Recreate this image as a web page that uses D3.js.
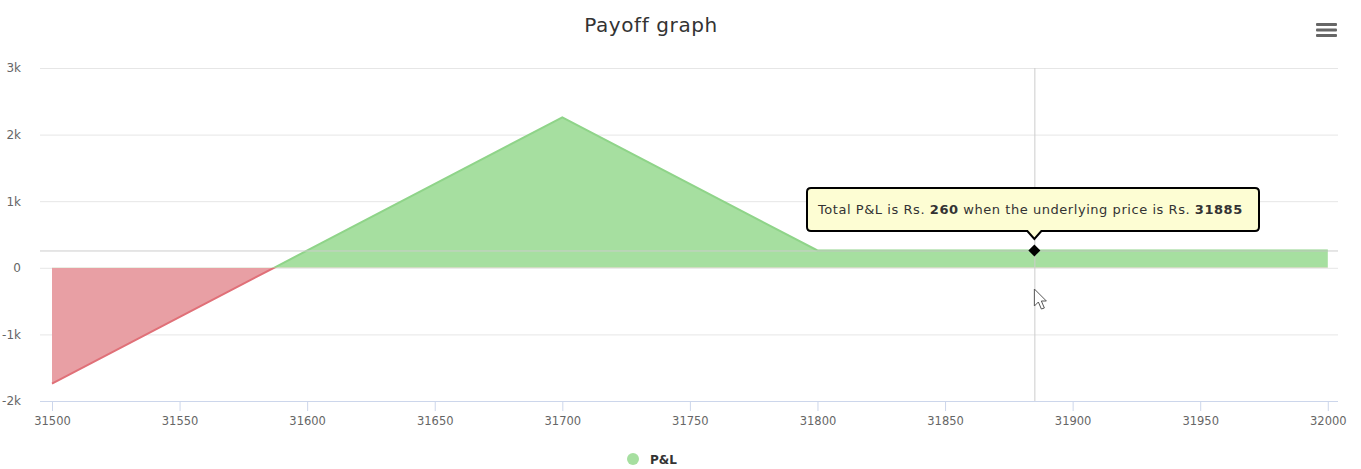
<!DOCTYPE html>
<html><head><meta charset="utf-8">
<script src="https://cdn.jsdelivr.net/npm/d3@7"></script>
<style>
html,body{margin:0;padding:0;background:#fff;}
svg{display:block;font-family:"DejaVu Sans",Verdana,sans-serif;}
</style></head>
<body>
<svg id="c" width="1361" height="469"></svg>
<script>
// ---- data ----
const prices = [31500, 31587, 31700, 31800, 32000];
const pnl = [-1740, 0, 2260, 260, 260];
const yTicks = [-2000, -1000, 0, 1000, 2000, 3000];
const yTickLabels = ["-2k", "-1k", "0", "1k", "2k", "3k"];
const xTicks = [31500, 31550, 31600, 31650, 31700, 31750, 31800, 31850, 31900, 31950, 32000];
const hoverPrice = [31885];
const hoverPnl = [260];
const title = "Payoff graph";
const seriesName = "P&L";

const data = prices.map((p, i) => ({x: p, y: pnl[i]}));
const svg = d3.select("#c");
const L = 40, R = 1338, T = 68, B = 401;
const x = d3.scaleLinear().domain([31495.3, 32004]).range([L, R]);
const y = d3.scaleLinear().domain([-2000, 3000]).range([B, T]);

// title
svg.append("text").attr("x", 651).attr("y", 32).attr("text-anchor", "middle")
  .attr("font-size", 20).attr("letter-spacing", 0.6).attr("fill", "#333").text(title);

// menu icon
[0, 1, 2].forEach(i => svg.append("rect").attr("x", 1316).attr("y", 23 + i * 5.5)
  .attr("width", 21).attr("height", 3).attr("rx", 1).attr("fill", "#666"));

// grid
const yAxis = d3.axisLeft(y).tickValues(yTicks).tickSize(-(R - L))
  .tickFormat((d, i) => yTickLabels[i]).tickPadding(19);
const gy = svg.append("g").attr("transform", `translate(${L},0)`).call(yAxis);
gy.select(".domain").remove();
gy.selectAll(".tick line").attr("stroke", "#e6e6e6");
gy.selectAll(".tick text").attr("fill", "#666").attr("font-size", 12)
  .attr("font-family", "DejaVu Sans, sans-serif");

// x axis
const xAxis = d3.axisBottom(x).tickValues(xTicks).tickSize(10).tickPadding(6)
  .tickFormat(d3.format("d"));
const gx = svg.append("g").attr("transform", `translate(0,${B})`).call(xAxis);
gx.select(".domain").attr("stroke", "#ccd6eb").attr("d", `M${L},0.5H${R}`);
gx.selectAll(".tick line").attr("stroke", "#ccd6eb");
gx.selectAll(".tick text").attr("fill", "#666").attr("font-size", 11.5)
  .attr("font-family", "DejaVu Sans, sans-serif");

// clip paths for zones
const defs = svg.append("defs");
defs.append("clipPath").attr("id", "pos").append("rect")
  .attr("x", 0).attr("y", 0).attr("width", 1361).attr("height", y(0));
defs.append("clipPath").attr("id", "neg").append("rect")
  .attr("x", 0).attr("y", y(0)).attr("width", 1361).attr("height", 469 - y(0));

const area = d3.area().x(d => x(d.x)).y0(y(0)).y1(d => y(d.y));
const line = d3.line().x(d => x(d.x)).y(d => y(d.y));

const zones = [["pos", "#a6dfa0", "#8fd489"], ["neg", "#e89fa4", "#e07078"]];
zones.forEach(([id, fill, stroke]) => {
  const g = svg.append("g").attr("clip-path", `url(#${id})`);
  g.append("path").datum(data).attr("d", area).attr("fill", fill);
  g.append("path").datum(data).attr("d", line).attr("fill", "none")
    .attr("stroke", stroke).attr("stroke-width", 2);
});

// crosshairs
const hx = x(hoverPrice[0]), hy = y(hoverPnl[0]);
svg.append("line").attr("x1", hx + 0.5).attr("x2", hx + 0.5).attr("y1", T).attr("y2", B)
  .attr("stroke", "#cccccc").attr("stroke-width", 1);
svg.append("line").attr("x1", L).attr("x2", R).attr("y1", hy + 0.5).attr("y2", hy + 0.5)
  .attr("stroke", "#cccccc").attr("stroke-width", 1);

// marker
const s = 6;
svg.append("path").attr("d", `M${hx},${hy - s}L${hx + s},${hy}L${hx},${hy + s}L${hx - s},${hy}Z`)
  .attr("fill", "#000");

// tooltip
const tw = 452, th = 43, tx = 807, ty = 188;
const bx = ty + th;
svg.append("path").attr("d",
  `M${tx + 4},${ty}H${tx + tw - 4}Q${tx + tw},${ty} ${tx + tw},${ty + 4}V${bx - 4}Q${tx + tw},${bx} ${tx + tw - 4},${bx}` +
  `H${hx + 7}L${hx},${bx + 8}L${hx - 7},${bx}H${tx + 4}Q${tx},${bx} ${tx},${bx - 4}V${ty + 4}Q${tx},${ty} ${tx + 4},${ty}Z`)
  .attr("fill", "#fdfdd3").attr("stroke", "#000").attr("stroke-width", 2);
const tt = svg.append("text").attr("x", tx + 11).attr("y", ty + 26)
  .attr("font-size", 13).attr("letter-spacing", 0.55).attr("fill", "#333");
tt.append("tspan").text("Total P&L is Rs. ");
tt.append("tspan").attr("font-weight", "bold").text(hoverPnl[0]);
tt.append("tspan").text(" when the underlying price is Rs. ");
tt.append("tspan").attr("font-weight", "bold").text(hoverPrice[0]);

// cursor
const cx0 = hx, cy0 = 289;
svg.append("path").attr("d",
  `M${cx0},${cy0}V${cy0 + 17}L${cx0 + 4},${cy0 + 13}L${cx0 + 7},${cy0 + 20}L${cx0 + 10},${cy0 + 19}L${cx0 + 7},${cy0 + 12}L${cx0 + 12},${cy0 + 12}Z`)
  .attr("fill", "#fff").attr("stroke", "#555").attr("stroke-width", 1);

// legend
svg.append("circle").attr("cx", 633).attr("cy", 459).attr("r", 6).attr("fill", "#a6dfa0");
svg.append("text").attr("x", 650).attr("y", 463.5).attr("font-size", 12).attr("font-weight", "bold")
  .attr("fill", "#333").text(seriesName);
</script>
</body></html>
